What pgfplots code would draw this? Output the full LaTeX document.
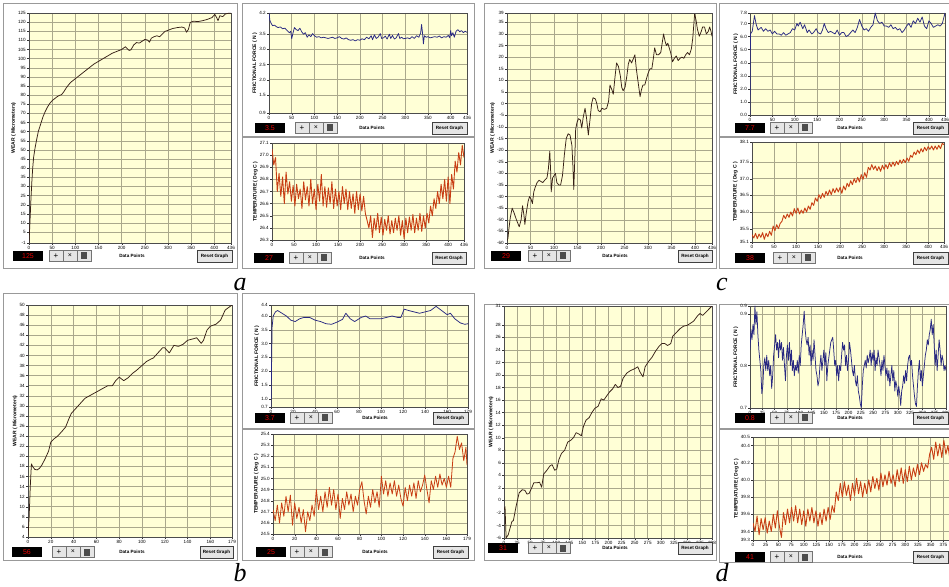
\documentclass[border=0pt]{standalone}
\usepackage{pgfplots}
\pgfplotsset{compat=1.18}
\usepackage{fontspec}
\setmainfont{Liberation Sans}
\newfontfamily\lettfont{Liberation Serif}
\definecolor{plotbg}{RGB}{255,255,214}
\definecolor{gridc}{RGB}{170,168,140}
\definecolor{wearc}{RGB}{55,32,22}
\definecolor{fricc}{RGB}{40,40,130}
\definecolor{tempc}{RGB}{200,62,20}
\newcommand\tinyf{\fontsize{4.6}{5}\selectfont}
\newcommand\labf{\fontsize{5}{6}\selectfont\bfseries}
\pgfplotsset{
 lv/.style={
  scale only axis,
  axis background/.style={fill=plotbg},
  grid=major,
  major grid style={draw=gridc, line width=0.5pt},
  axis line style={draw=black!70, line width=0.5pt},
  every tick/.style={black!80, line width=0.3pt},
  major tick length=2pt,
  minor tick length=1.2pt,
  tick align=outside,
  xtick pos=bottom, ytick pos=left,
  xticklabel style={font=\tinyf, inner sep=1pt},
  yticklabel style={font=\tinyf, inner sep=1pt},
  /pgf/number format/assume math mode=true,
  ylabel style={font=\labf, inner sep=1pt},
  minor x tick num=4,
  every axis plot/.append style={line width=0.75pt, line join=round},
 },
 dec1/.style={yticklabel style={/pgf/number format/.cd, fixed, fixed zerofill, precision=1}},
}
% value box, buttons, "Data Points", Reset Graph  (image coordinates)
\newcommand\lvstrip[7]{%
 \node[fill=black, text=red!90!black, minimum width=30pt, minimum height=10pt, inner sep=0pt, font=\fontsize{7}{7}\selectfont] at ({#1+15},{586-#2}) {#3};
 \draw[black!55, fill=black!10] ({#4},{586-#2-5.5}) rectangle ({#4+42},{586-#2+5.5});
 \draw[black!55] ({#4+14},{586-#2-5.5}) -- ({#4+14},{586-#2+5.5}) ({#4+28},{586-#2-5.5}) -- ({#4+28},{586-#2+5.5});
 \node[font=\fontsize{8}{8}\selectfont, inner sep=0pt] at ({#4+7},{586-#2}) {+};
 \node[font=\fontsize{7}{7}\selectfont, inner sep=0pt] at ({#4+21},{586-#2}) {×};
 \fill[black!70] ({#4+32},{586-#2-3.5}) rectangle ({#4+38},{586-#2+3.5});
 \node[font=\tinyf\bfseries] at ({#5},{586-#2}) {Data Points};
 \draw[black!75, fill=black!10] ({#6},{586-#2-6}) rectangle ({#7},{586-#2+6});
 \node[font=\tinyf\bfseries] at ({(#6+#7)/2},{586-#2}) {Reset Graph};
}
\begin{document}
\begin{tikzpicture}[x=1pt,y=1pt]
\useasboundingbox (0,0) rectangle (949,586);
\clip (0,0) rectangle (949,586);
\fill[white] (0,0) rectangle (949,586);
% panel frames
\begin{scope}[draw=black!40, line width=0.8pt]
\draw (3,318) rectangle (237,583);
\draw (242,450) rectangle (474,583);
\draw (242,318) rectangle (474,449);
\draw (484,318) rectangle (716,583);
\draw (719,450) rectangle (952,583);
\draw (719,318) rectangle (952,449);
\draw (3,26) rectangle (237,293);
\draw (242,158) rectangle (474,293);
\draw (242,26) rectangle (474,157);
\draw (484,26) rectangle (716,282);
\draw (719,158) rectangle (952,282);
\draw (719,24) rectangle (952,157);
\end{scope}

%%%%%%%%%%%%%%%%%%%% panel a
\begin{axis}[lv, at={(29pt,343pt)}, anchor=south west, width=202pt, height=230pt,
 xmin=0, xmax=436, ymin=-1, ymax=125,
 xtick={0,50,100,150,200,250,300,350,400,436},
 ytick={-1,5,10,15,20,25,30,35,40,45,50,55,60,65,70,75,80,85,90,95,100,105,110,115,120,125},
 ylabel={WEAR ( Micrometers)}]
\addplot[wearc] coordinates {(0,-1)(2,10)(4,22)(6,32)(8,40)(10,46)(13,51)(16,55)(20,60)(25,64)(30,68)(35,71)(40,73.5)(45,75.5)(50,77)(55,78)(60,79)(65,79.8)(70,80.2)(75,81.8)(80,83.8)(85,85.5)(90,87)(100,89)(110,91)(120,93)(130,95)(140,97)(150,98.5)(160,100)(170,101.5)(180,103)(190,104)(200,105)(208,106.5)(212,105.5)(216,104.5)(220,104.8)(226,107.5)(232,108.8)(238,108.5)(244,109.5)(250,110.5)(256,110.2)(260,109)(264,111.2)(270,112)(276,112.5)(282,112)(288,113.5)(294,115)(300,115.5)(310,116.5)(320,117)(330,117.3)(336,116.8)(340,114.5)(344,116)(348,119.8)(355,120.5)(365,120.3)(375,120.8)(385,121.5)(395,122.5)(401,124.2)(405,122.5)(408,120.8)(412,123.5)(418,123)(424,124.5)(430,124.8)(436,124.8)};
\end{axis}
\lvstrip{13}{256}{125}{49}{132}{197}{232}

\begin{axis}[lv, dec1, at={(269pt,473pt)}, anchor=south west, width=198pt, height=100pt,
 xmin=0, xmax=436, ymin=0.9, ymax=4.2,
 xtick={0,50,100,150,200,250,300,350,400,436},
 ytick={0.9,1.5,2.0,2.5,3.0,3.5,4.2},
 ylabel={FRICTIONAL FORCE ( N )}]
\addplot[fricc] coordinates {(0,4.20)(2,3.95)(5,3.85)(8,3.78)(12,3.80)(16,3.75)(20,3.72)(25,3.74)(30,3.68)(35,3.70)(40,3.62)(45,3.55)(48,3.60)(50,3.35)(53,3.55)(56,3.72)(60,3.65)(64,3.62)(68,3.70)(72,3.58)(76,3.50)(80,3.55)(84,3.40)(88,3.48)(92,3.42)(96,3.52)(100,3.45)(105,3.40)(110,3.42)(115,3.38)(120,3.40)(125,3.38)(130,3.36)(135,3.38)(140,3.40)(145,3.36)(150,3.38)(155,3.42)(160,3.36)(165,3.34)(170,3.38)(175,3.32)(180,3.30)(185,3.32)(190,3.28)(195,3.32)(200,3.30)(205,3.35)(210,3.32)(215,3.40)(220,3.35)(225,3.45)(228,3.32)(232,3.48)(236,3.36)(240,3.40)(245,3.52)(248,3.36)(252,3.38)(256,3.44)(260,3.34)(265,3.50)(268,3.36)(272,3.46)(276,3.34)(280,3.38)(285,3.52)(288,3.36)(292,3.40)(296,3.35)(300,3.36)(305,3.38)(310,3.35)(315,3.42)(320,3.36)(325,3.45)(330,3.40)(334,3.55)(336,3.82)(338,3.55)(340,3.18)(342,3.45)(346,3.40)(350,3.42)(355,3.38)(360,3.40)(365,3.42)(370,3.40)(375,3.44)(380,3.38)(385,3.42)(390,3.40)(395,3.46)(398,3.38)(400,3.62)(402,3.45)(405,3.55)(408,3.40)(412,3.60)(416,3.65)(420,3.58)(424,3.62)(428,3.55)(432,3.60)(436,3.56)};
\end{axis}
\lvstrip{255}{128}{3.5}{295}{372}{432}{467}

\begin{axis}[lv, dec1, at={(272pt,346pt)}, anchor=south west, width=192pt, height=97pt,
 xmin=0, xmax=436, ymin=26.3, ymax=27.1,
 xtick={0,50,100,150,200,250,300,350,400,436},
 ytick={26.3,26.4,26.5,26.6,26.7,26.8,26.9,27.0,27.1},
 ylabel={TEMPERATURE ( Deg C )}]
\addplot[tempc, line width=0.9pt] coordinates {(0,27.05)(4,26.92)(8,26.98)(12,26.70)(16,26.85)(20,26.66)(24,26.82)(28,26.60)(32,26.86)(36,26.68)(40,26.78)(44,26.62)(48,26.75)(52,26.58)(56,26.76)(60,26.64)(64,26.72)(68,26.56)(72,26.78)(76,26.63)(80,26.74)(84,26.58)(88,26.80)(92,26.60)(96,26.72)(100,26.55)(104,26.76)(108,26.62)(112,26.84)(116,26.58)(120,26.74)(124,26.57)(128,26.73)(132,26.60)(136,26.78)(140,26.56)(144,26.72)(148,26.58)(152,26.70)(156,26.55)(160,26.74)(164,26.60)(168,26.72)(172,26.55)(176,26.70)(180,26.56)(184,26.68)(188,26.52)(192,26.70)(196,26.55)(200,26.68)(204,26.54)(208,26.66)(212,26.52)(216,26.46)(220,26.40)(224,26.50)(228,26.32)(232,26.48)(236,26.38)(240,26.52)(244,26.36)(248,26.49)(252,26.34)(256,26.47)(260,26.38)(264,26.50)(268,26.35)(272,26.46)(276,26.36)(280,26.48)(284,26.38)(288,26.50)(292,26.34)(296,26.46)(300,26.31)(304,26.48)(308,26.36)(312,26.49)(316,26.38)(320,26.51)(324,26.36)(328,26.48)(332,26.38)(336,26.52)(340,26.37)(344,26.50)(348,26.40)(352,26.52)(356,26.44)(360,26.58)(364,26.50)(368,26.64)(372,26.56)(376,26.70)(380,26.60)(384,26.76)(388,26.64)(392,26.80)(396,26.62)(400,26.82)(404,26.60)(408,26.84)(412,26.72)(416,26.95)(420,26.86)(424,27.02)(428,26.92)(432,27.08)(436,26.98)};
\end{axis}
\lvstrip{254}{258}{27}{289}{372}{432}{466}

%%%%%%%%%%%%%%%%%%%% panel c
\begin{axis}[lv, at={(507pt,343pt)}, anchor=south west, width=205pt, height=230pt,
 xmin=0, xmax=436, ymin=-60, ymax=39,
 xtick={0,50,100,150,200,250,300,350,400,436},
 ytick={-60,-55,-50,-45,-40,-35,-30,-25,-20,-15,-10,-5,0,5,10,15,20,25,30,35,39},
 ylabel={WEAR ( Micrometers)}]
\addplot[wearc] coordinates {(0,-59)(2,-58)(4,-54)(7,-49)(11,-45)(15,-47)(20,-50)(26,-53)(30,-50)(33,-44)(36,-48)(38,-52)(41,-47)(45,-42)(48,-40)(51,-41)(54,-43)(57,-38)(60,-36)(64,-34)(68,-33)(72,-33.5)(76,-34)(80,-33)(85,-32)(88,-28)(91,-20.5)(93,-30)(94,-38)(97,-32)(100,-31)(103,-30)(106,-34)(110,-35)(114,-35)(118,-31)(122,-22)(126,-15)(130,-13)(134,-13.5)(138,-18)(140,-26)(142,-37)(144,-25)(146,-11)(149,-8)(152,-6.5)(156,-7)(159,-10.5)(162,-6)(166,-2)(169,-6)(173,-13.5)(177,-6)(180,0)(183,2.5)(188,2)(191,0)(194,-3)(198,-3.5)(202,-2)(207,-2.5)(212,-2)(216,1)(219,8)(223,6)(226,4)(230,12)(233,17.5)(237,16)(241,12)(244,7)(247,5.5)(251,7)(255,12)(258,17)(261,19)(265,17.5)(268,19)(272,21)(275,15)(279,9)(283,3)(286,6)(289,8)(293,8)(297,11)(300,13)(304,15)(308,15)(311,19)(314,24)(318,21)(322,21)(327,22)(330,26)(333,30)(336,27)(339,25)(342,26)(345,24)(348,22)(352,18)(356,19.5)(360,20.5)(364,18.5)(368,19.5)(372,20)(376,19.5)(380,21)(384,22)(388,21)(392,23.5)(395,28)(399,38.5)(402,36)(405,32)(409,29)(413,31)(416,33)(420,33)(424,30)(428,31)(431,33)(434,31)(436,29)};
\end{axis}
\lvstrip{491}{256}{29}{528}{615}{678}{712}

\begin{axis}[lv, dec1, at={(750pt,471pt)}, anchor=south west, width=195pt, height=102pt,
 xmin=0, xmax=436, ymin=0, ymax=7.8,
 xtick={0,50,100,150,200,250,300,350,400,436},
 ytick={0,1,2,3,4,5,6,7,7.8},
 ylabel={FRICTIONAL FORCE ( N )}]
\addplot[fricc] coordinates {(0,0)(1,6.2)(5,6.4)(10,7.6)(14,6.9)(18,6.5)(25,6.7)(30,6.4)(35,6.6)(40,6.4)(45,6.5)(50,6.2)(55,6.4)(60,6.2)(65,6.2)(70,6.1)(75,6.3)(80,6.1)(85,6.2)(90,6.3)(95,6.6)(100,6.5)(105,7.0)(108,6.8)(112,7.1)(118,6.6)(122,6.9)(128,6.3)(132,6.5)(138,6.2)(142,6.3)(148,6.6)(152,6.3)(158,6.2)(162,6.5)(166,7.0)(170,6.6)(175,6.3)(180,6.4)(185,6.3)(190,6.2)(195,6.5)(200,6.1)(205,6.3)(210,6.3)(215,6.0)(220,6.1)(225,6.3)(230,6.5)(235,6.3)(240,6.7)(245,7.3)(250,6.8)(255,6.5)(260,6.6)(265,6.4)(270,6.7)(275,6.9)(280,7.8)(285,7.2)(290,7.0)(295,7.1)(300,6.8)(305,6.8)(310,6.7)(315,6.9)(320,6.6)(325,6.7)(330,6.5)(335,6.6)(340,6.3)(345,6.5)(350,6.8)(355,7.0)(360,6.7)(365,7.2)(370,7.0)(375,7.4)(380,7.1)(385,7.5)(390,6.8)(395,6.6)(400,7.2)(405,7.0)(410,6.7)(415,6.8)(420,6.9)(425,6.8)(430,7.0)(436,7.8)};
\end{axis}
\lvstrip{735}{128}{7.7}{770}{850}{913}{948}

\begin{axis}[lv, dec1, at={(752pt,344pt)}, anchor=south west, width=192pt, height=100pt,
 xmin=0, xmax=436, ymin=35.1, ymax=38.1,
 xtick={0,50,100,150,200,250,300,350,400,436},
 ytick={35.1,35.5,36.0,36.5,37.0,37.5,38.1},
 ylabel={TEMPERATURE ( Deg C )}]
\addplot[tempc, line width=0.9pt] coordinates {(0,35.32)(4,35.22)(8,35.36)(12,35.20)(16,35.34)(20,35.24)(24,35.38)(28,35.18)(32,35.36)(36,35.26)(40,35.42)(44,35.30)(48,35.58)(52,35.44)(56,35.62)(60,35.50)(64,35.66)(68,35.72)(72,35.90)(76,35.80)(80,35.94)(84,35.84)(88,36.00)(92,35.88)(96,36.10)(100,35.96)(104,36.12)(108,35.94)(112,36.06)(116,35.96)(120,36.12)(124,36.00)(128,36.18)(132,36.08)(136,36.28)(140,36.20)(144,36.42)(148,36.32)(152,36.52)(156,36.40)(160,36.56)(164,36.44)(168,36.62)(172,36.50)(176,36.66)(180,36.52)(184,36.70)(188,36.58)(192,36.72)(196,36.60)(200,36.74)(204,36.56)(208,36.78)(212,36.66)(216,36.86)(220,36.76)(224,36.94)(228,36.82)(232,37.00)(236,36.88)(240,37.04)(244,36.90)(248,37.12)(252,36.98)(256,37.18)(260,37.04)(264,37.34)(268,37.26)(272,37.42)(276,37.28)(280,37.38)(284,37.24)(288,37.36)(292,37.22)(296,37.40)(300,37.28)(304,37.42)(308,37.30)(312,37.48)(316,37.36)(320,37.50)(324,37.38)(328,37.52)(332,37.42)(336,37.56)(340,37.46)(344,37.58)(348,37.48)(352,37.62)(356,37.52)(360,37.70)(364,37.64)(368,37.80)(372,37.72)(376,37.86)(380,37.76)(384,37.90)(388,37.80)(392,37.94)(396,37.84)(400,37.96)(404,37.88)(408,37.98)(412,37.86)(416,37.98)(420,37.88)(424,38.00)(428,37.90)(432,38.06)(436,38.02)};
\end{axis}
\lvstrip{735}{258}{38}{773}{850}{913}{948}

%%%%%%%%%%%%%%%%%%%% panel b
\begin{axis}[lv, at={(28pt,49pt)}, anchor=south west, width=204pt, height=232pt,
 xmin=0, xmax=179, ymin=4, ymax=50,
 xtick={0,20,40,60,80,100,120,140,160,179},
 ytick={4,6,8,10,12,14,16,18,20,22,24,26,28,30,32,34,36,38,40,42,44,46,48,50},
 ylabel={WEAR ( Micrometers)}]
\addplot[wearc] coordinates {(0,4)(1,8)(2,14)(3,18.5)(4,18)(6,17.4)(8,17.3)(10,17.6)(12,18.2)(15,19.5)(18,21)(20,22.8)(23,23.5)(26,24)(30,25)(33,25.8)(36,27.5)(38,28.5)(42,29.5)(46,30.5)(50,31.5)(54,32)(58,32.5)(62,33)(66,33.5)(70,34)(74,34)(77,35)(80,35.7)(84,35)(88,35.6)(92,36.5)(95,37)(100,38)(104,38.8)(108,39.3)(110,39.5)(114,40.5)(118,41.5)(120,41.5)(124,40.5)(128,42)(132,41.8)(136,42.2)(140,43)(145,43.3)(148,43.5)(152,42.4)(154,43)(157,45)(160,45.8)(165,46.2)(169,47)(173,49)(176,49.5)(179,50)};
\end{axis}
\lvstrip{12}{552}{56}{52}{132}{200}{233}

\begin{axis}[lv, dec1, at={(271pt,179pt)}, anchor=south west, width=197pt, height=102pt,
 xmin=0, xmax=179, ymin=0.7, ymax=4.4,
 xtick={0,20,40,60,80,100,120,140,160,179},
 ytick={0.7,1.0,1.5,2.0,2.5,3.0,3.5,4.0,4.4},
 ylabel={FRICTIONAL FORCE ( N )}]
\addplot[fricc] coordinates {(0,0.7)(1,3.6)(2,4.0)(4,4.15)(6,4.2)(10,4.1)(14,4.0)(18,3.85)(22,3.8)(26,3.9)(30,3.95)(35,3.95)(40,3.85)(45,3.8)(50,3.72)(55,3.7)(60,3.78)(65,3.88)(68,4.1)(72,3.9)(76,3.8)(82,3.95)(86,4.0)(90,3.9)(95,3.9)(100,3.9)(105,3.95)(110,4.0)(115,3.95)(118,3.95)(121,4.25)(125,4.2)(130,4.15)(135,4.1)(140,4.15)(145,4.2)(150,4.35)(155,4.2)(160,4.05)(163,4.1)(167,3.9)(172,3.75)(176,3.7)(179,3.72)};
\end{axis}
\lvstrip{255}{418}{3.7}{290}{375}{433}{468}

\begin{axis}[lv, dec1, at={(273pt,52pt)}, anchor=south west, width=194pt, height=100pt,
 xmin=0, xmax=179, ymin=24.5, ymax=25.4,
 xtick={0,20,40,60,80,100,120,140,160,179},
 ytick={24.5,24.6,24.7,24.8,24.9,25.0,25.1,25.2,25.3,25.4},
 ylabel={TEMPERATURE ( Deg C )}]
\addplot[tempc, line width=0.8pt] coordinates {(0,24.72)(2,24.62)(4,24.76)(6,24.60)(8,24.78)(10,24.66)(12,24.84)(14,24.70)(16,24.85)(18,24.58)(20,24.78)(22,24.64)(24,24.74)(26,24.60)(28,24.72)(30,24.52)(32,24.70)(34,24.62)(36,24.76)(38,24.66)(40,24.90)(42,24.72)(44,24.84)(46,24.70)(48,24.88)(50,24.74)(52,24.92)(54,24.76)(56,24.90)(58,24.72)(60,24.86)(62,24.64)(64,24.82)(66,24.72)(68,24.88)(70,24.76)(72,24.86)(74,24.70)(76,24.84)(78,24.76)(80,24.90)(82,24.97)(84,24.80)(86,24.68)(88,24.84)(90,24.74)(92,24.90)(94,24.78)(96,24.88)(98,24.74)(100,25.02)(102,24.86)(104,24.98)(106,24.84)(108,24.96)(110,24.86)(112,24.98)(114,24.84)(116,24.94)(118,24.82)(120,24.75)(122,24.92)(124,24.80)(126,24.94)(128,24.84)(130,24.96)(132,24.82)(134,24.98)(136,24.88)(138,24.94)(140,25.03)(142,24.90)(144,24.78)(146,24.98)(148,24.90)(150,25.02)(152,24.92)(154,25.04)(156,24.94)(158,25.00)(160,24.92)(162,25.02)(164,24.92)(166,25.18)(168,25.24)(170,25.38)(172,25.26)(174,25.32)(176,25.16)(178,25.28)(179,25.12)};
\end{axis}
\lvstrip{256}{552}{25}{290}{375}{433}{468}

%%%%%%%%%%%%%%%%%%%% panel d
\begin{axis}[lv, at={(504pt,48pt)}, anchor=south west, width=208pt, height=232pt,
 xmin=0, xmax=398, ymin=-6, ymax=31,
 xtick={0,25,50,75,100,125,150,175,200,225,250,275,300,325,350,375,398},
 ytick={-6,-4,-2,0,2,4,6,8,10,12,14,16,18,20,22,24,26,28,31},
 ylabel={WEAR ( Micrometers)}]
\addplot[wearc] coordinates {(0,-1.5)(2,-1)(4,-6)(8,-5.5)(12,-4.3)(15,-3.4)(18,-3.2)(23,-1)(29,1.2)(35,1.7)(40,1.6)(44,1.0)(48,1.1)(53,2.0)(57,2.8)(63,2.8)(68,2.9)(72,2.1)(76,4.2)(82,4.8)(88,5.5)(92,5.7)(97,4.8)(101,5.0)(105,6.5)(110,7.5)(116,8.0)(122,9.3)(128,9.6)(133,10.0)(138,10.8)(143,10.6)(148,10.3)(152,11.8)(157,12.8)(163,13.2)(168,14.0)(174,14.7)(180,15.0)(186,16.2)(191,16.0)(196,16.6)(202,17.3)(208,17.8)(213,18.5)(218,18.0)(223,18.2)(228,19.5)(235,20.3)(242,20.7)(250,21.0)(256,21.3)(260,20.5)(266,19.7)(270,21.3)(277,22.2)(283,22.8)(290,23.8)(296,24.5)(302,25.0)(308,25.0)(313,24.7)(319,25.0)(323,26.2)(330,26.8)(337,27.4)(344,27.8)(350,27.9)(356,28.2)(363,28.6)(370,29.4)(375,29.8)(380,29.5)(385,29.9)(392,30.5)(398,31)};
\end{axis}
\lvstrip{488}{548}{31}{528}{615}{678}{712}

\begin{axis}[lv, at={(750pt,178pt)}, anchor=south west, width=196pt, height=102pt,
 xmin=0, xmax=398, ymin=0.717, ymax=0.916,
 xtick={0,25,50,75,100,125,150,175,200,225,250,275,300,325,350,375,398},
 ytick={0.717,0.8,0.9,0.916}, yticklabels={0.7,0.8,0.9,0.9},
 ylabel={FRICTIONAL FORCE ( N )}]
\addplot[fricc] coordinates {(0,0.830)(2,0.870)(4,0.850)(6,0.880)(8,0.860)(10,0.916)(12,0.880)(14,0.905)(16,0.860)(18,0.830)(20,0.810)(22,0.790)(24,0.745)(26,0.760)(28,0.800)(30,0.815)(32,0.790)(34,0.820)(36,0.790)(38,0.810)(40,0.780)(42,0.800)(44,0.755)(46,0.780)(48,0.820)(50,0.840)(52,0.860)(54,0.830)(56,0.845)(58,0.815)(60,0.850)(62,0.830)(64,0.845)(66,0.810)(68,0.835)(70,0.800)(72,0.770)(74,0.820)(76,0.840)(78,0.810)(80,0.845)(82,0.800)(84,0.830)(86,0.790)(88,0.810)(90,0.780)(92,0.800)(94,0.790)(96,0.810)(98,0.785)(100,0.820)(102,0.800)(104,0.840)(106,0.860)(108,0.880)(110,0.906)(112,0.870)(114,0.850)(116,0.840)(118,0.855)(120,0.820)(122,0.840)(124,0.800)(126,0.830)(128,0.810)(130,0.850)(132,0.820)(134,0.790)(136,0.780)(138,0.760)(140,0.770)(142,0.800)(144,0.820)(146,0.790)(148,0.810)(150,0.830)(152,0.800)(154,0.825)(156,0.770)(158,0.800)(160,0.815)(162,0.830)(164,0.845)(166,0.850)(168,0.855)(170,0.830)(172,0.800)(174,0.810)(176,0.780)(178,0.800)(180,0.770)(182,0.800)(184,0.790)(186,0.820)(188,0.845)(190,0.830)(192,0.840)(194,0.800)(196,0.820)(198,0.790)(200,0.810)(202,0.845)(204,0.830)(206,0.810)(208,0.790)(210,0.780)(212,0.800)(214,0.770)(216,0.760)(218,0.780)(220,0.750)(222,0.740)(224,0.725)(226,0.717)(228,0.760)(230,0.790)(232,0.800)(234,0.810)(236,0.795)(238,0.820)(240,0.805)(242,0.815)(244,0.830)(246,0.800)(248,0.825)(250,0.810)(252,0.830)(254,0.790)(256,0.815)(258,0.800)(260,0.830)(262,0.815)(264,0.800)(266,0.780)(268,0.810)(270,0.790)(272,0.820)(274,0.800)(276,0.780)(278,0.795)(280,0.770)(282,0.790)(284,0.760)(286,0.780)(288,0.800)(290,0.770)(292,0.790)(294,0.750)(296,0.770)(298,0.760)(300,0.740)(302,0.760)(304,0.745)(306,0.722)(308,0.750)(310,0.760)(312,0.780)(314,0.765)(316,0.790)(318,0.770)(320,0.800)(322,0.815)(324,0.820)(326,0.800)(328,0.810)(330,0.780)(332,0.760)(334,0.740)(336,0.725)(338,0.720)(340,0.760)(342,0.790)(344,0.810)(346,0.770)(348,0.790)(350,0.760)(352,0.780)(354,0.800)(356,0.820)(358,0.830)(360,0.850)(362,0.840)(364,0.860)(366,0.870)(368,0.890)(370,0.860)(372,0.880)(374,0.840)(376,0.800)(378,0.830)(380,0.790)(382,0.820)(384,0.850)(386,0.830)(388,0.800)(390,0.820)(392,0.810)(394,0.790)(396,0.800)(398,0.790)};
\end{axis}
\lvstrip{735}{418}{0.8}{770}{850}{913}{948}

\begin{axis}[lv, dec1, at={(753pt,46pt)}, anchor=south west, width=202pt, height=103pt,
 xmin=0, xmax=398, ymin=39.3, ymax=40.5,
 xtick={0,25,50,75,100,125,150,175,200,225,250,275,300,325,350,375,398},
 ytick={39.3,39.4,39.6,39.8,40.0,40.2,40.4,40.5},
 ylabel={TEMPERATURE ( Deg C )}]
\addplot[tempc, line width=0.9pt] coordinates {(0,39.50)(4,39.40)(8,39.58)(12,39.36)(16,39.55)(20,39.42)(24,39.56)(28,39.38)(32,39.52)(36,39.40)(40,39.60)(44,39.44)(48,39.64)(52,39.46)(56,39.33)(60,39.62)(64,39.48)(68,39.66)(72,39.50)(76,39.68)(80,39.52)(84,39.70)(88,39.50)(92,39.66)(96,39.48)(100,39.64)(104,39.46)(108,39.66)(112,39.52)(116,39.68)(120,39.50)(124,39.64)(128,39.46)(132,39.62)(136,39.48)(140,39.66)(144,39.52)(148,39.68)(152,39.54)(156,39.70)(160,39.62)(164,39.86)(168,39.76)(172,39.96)(176,39.80)(180,39.98)(184,39.82)(188,39.94)(192,39.76)(196,39.96)(200,39.82)(204,40.02)(208,39.84)(212,39.98)(216,39.80)(220,39.96)(224,39.84)(228,40.00)(232,39.86)(236,40.04)(240,39.90)(244,40.02)(248,39.88)(252,40.08)(256,39.92)(260,40.06)(264,39.94)(268,40.10)(272,39.96)(276,40.06)(280,39.92)(284,40.12)(288,39.98)(292,40.14)(296,39.96)(300,40.12)(304,39.98)(308,40.16)(312,40.00)(316,40.14)(320,40.04)(324,40.18)(328,40.06)(332,40.20)(336,40.10)(340,40.18)(344,40.14)(348,40.30)(352,40.38)(356,40.24)(360,40.44)(364,40.28)(368,40.42)(372,40.26)(376,40.46)(380,40.30)(384,40.40)(388,40.24)(392,40.48)(396,40.32)(398,40.42)};
\end{axis}
\lvstrip{735}{557}{41}{770}{850}{913}{948}

% panel letters
\begin{scope}[every node/.style={font=\lettfont\itshape\fontsize{26}{26}\selectfont, anchor=base, inner sep=0pt}]
\node at (240,295) {a};
\node at (722,295) {c};
\node at (240,5) {b};
\node at (722,5) {d};
\end{scope}
\end{tikzpicture}
\end{document}
